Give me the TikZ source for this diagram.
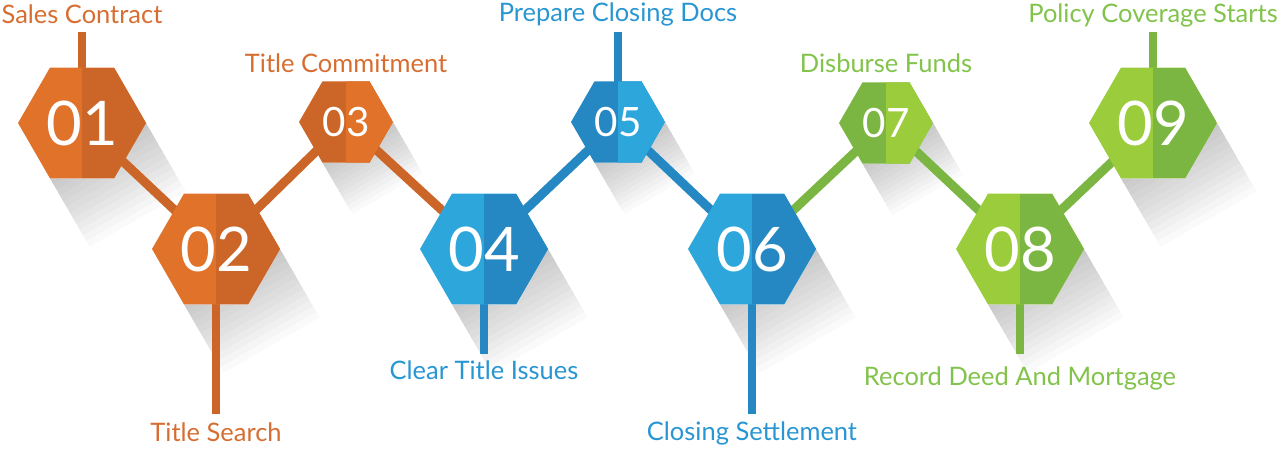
\documentclass[tikz,border=0pt]{standalone}
\usepackage{fontspec}
\setmainfont{Lato}
\usepackage{xcolor}
\usepackage{tikz}
\usetikzlibrary{shapes.geometric, positioning, backgrounds, calc}

\definecolor{orangelight}{RGB}{224,114,42}
\definecolor{orangedark}{RGB}{203,102,40}
\definecolor{orangetext}{RGB}{214,110,50}
\definecolor{bluelight}{RGB}{45,166,219}
\definecolor{bluedark}{RGB}{37,136,195}
\definecolor{bluetext}{RGB}{40,150,210}
\definecolor{greenlight}{RGB}{154,204,59}
\definecolor{greendark}{RGB}{124,182,66}
\definecolor{greentext}{RGB}{130,195,75}

\begin{document}
\begin{tikzpicture}[
    x=0.02cm, y=-0.02cm,
    hexstep/.style 2 args={regular polygon, regular polygon sides=6, inner sep=0pt, outer sep=0pt,
      minimum size=2.56cm, fill=#1, text=white, font=\fontsize{35}{40}\selectfont,
      path picture={\fill[#2] (path picture bounding box.north) rectangle (path picture bounding box.south east);}},
    small/.style={minimum size=1.88cm, font=\fontsize{23}{26}\selectfont},
    link/.style={line width=0.18cm, draw=#1},
    stem/.style={line width=0.16cm, draw=#1},
    drop/.style={fill=black, opacity=0.018},
    steplabel/.style={anchor=base, inner sep=0pt, text=#1, font=\fontsize{14.5}{17}\selectfont},
  ]
  \useasboundingbox (0,0) rectangle (1280,449);

  % Hexagon steps - upper and lower row
  \node[hexstep={orangelight}{orangedark}] (h1) at (82,123) {01};
  \node[hexstep={orangelight}{orangedark}] (h2) at (216,249) {02};
  \node[hexstep={orangedark}{orangelight}, small] (h3) at (346,122) {03};
  \node[hexstep={bluelight}{bluedark}] (h4) at (484,249) {04};
  \node[hexstep={bluedark}{bluelight}, small] (h5) at (618,122) {05};
  \node[hexstep={bluelight}{bluedark}] (h6) at (752,249) {06};
  \node[hexstep={greendark}{greenlight}, small] (h7) at (886,123) {07};
  \node[hexstep={greenlight}{greendark}] (h8) at (1020,249) {08};
  \node[hexstep={greenlight}{greendark}] (h9) at (1153,123) {09};

  % Stem ends
  \coordinate (s1) at (82,32);
  \coordinate (s2) at (216,414);
  \coordinate (s4) at (484,354);
  \coordinate (s5) at (618,32);
  \coordinate (s6) at (752,414);
  \coordinate (s8) at (1020,354);
  \coordinate (s9) at (1153,32);

  \begin{scope}[on background layer]
    % Long shadows, stacked so they fade out
    \foreach \h/\d in {h1/1, h2/1, h3/0.75, h4/1, h5/0.75, h6/1, h7/0.75, h8/1, h9/1}
      \foreach \k in {1,...,12}
        \fill[drop] (\h.0) -- ++(3.3*\k*\d,5.7*\k*\d) -- ($(\h.-120)+(3.3*\k*\d,5.7*\k*\d)$) -- (\h.-120) -- (\h.-60) -- cycle;

    % Zigzag links
    \draw[link=orangedark] (h1.center) -- (h2.center);
    \draw[link=orangedark] (h2.center) -- (h3.center);
    \draw[link=orangedark] (h3.center) -- (h4.center);
    \draw[link=bluedark] (h4.center) -- (h5.center);
    \draw[link=bluedark] (h5.center) -- (h6.center);
    \draw[link=greendark] (h6.center) -- (h7.center);
    \draw[link=greendark] (h7.center) -- (h8.center);
    \draw[link=greendark] (h8.center) -- (h9.center);

    % Stems
    \draw[stem=orangedark] (h1.center) -- (s1);
    \draw[stem=orangedark] (h2.center) -- (s2);
    \draw[stem=bluedark] (h4.center) -- (s4);
    \draw[stem=bluedark] (h5.center) -- (s5);
    \draw[stem=bluedark] (h6.center) -- (s6);
    \draw[stem=greendark] (h8.center) -- (s8);
    \draw[stem=greendark] (h9.center) -- (s9);
  \end{scope}

  % Labels
  \node[steplabel=orangetext] (l1) at (82,24) {Sales Contract};
  \node[steplabel=orangetext] (l2) at (216,441) {Title Search};
  \node[steplabel=orangetext] (l3) at (346,73) {Title Commitment};
  \node[steplabel=bluetext] (l4) at (484,379) {Clear Title Issues};
  \node[steplabel=bluetext] (l5) at (618,22) {Prepare Closing Docs};
  \node[steplabel=bluetext] (l6) at (752,440) {Closing Settlement};
  \node[steplabel=greentext] (l7) at (886,73) {Disburse Funds};
  \node[steplabel=greentext] (l8) at (1020,385) {Record Deed And Mortgage};
  \node[steplabel=greentext] (l9) at (1153,23) {Policy Coverage Starts};

\end{tikzpicture}
\end{document}
